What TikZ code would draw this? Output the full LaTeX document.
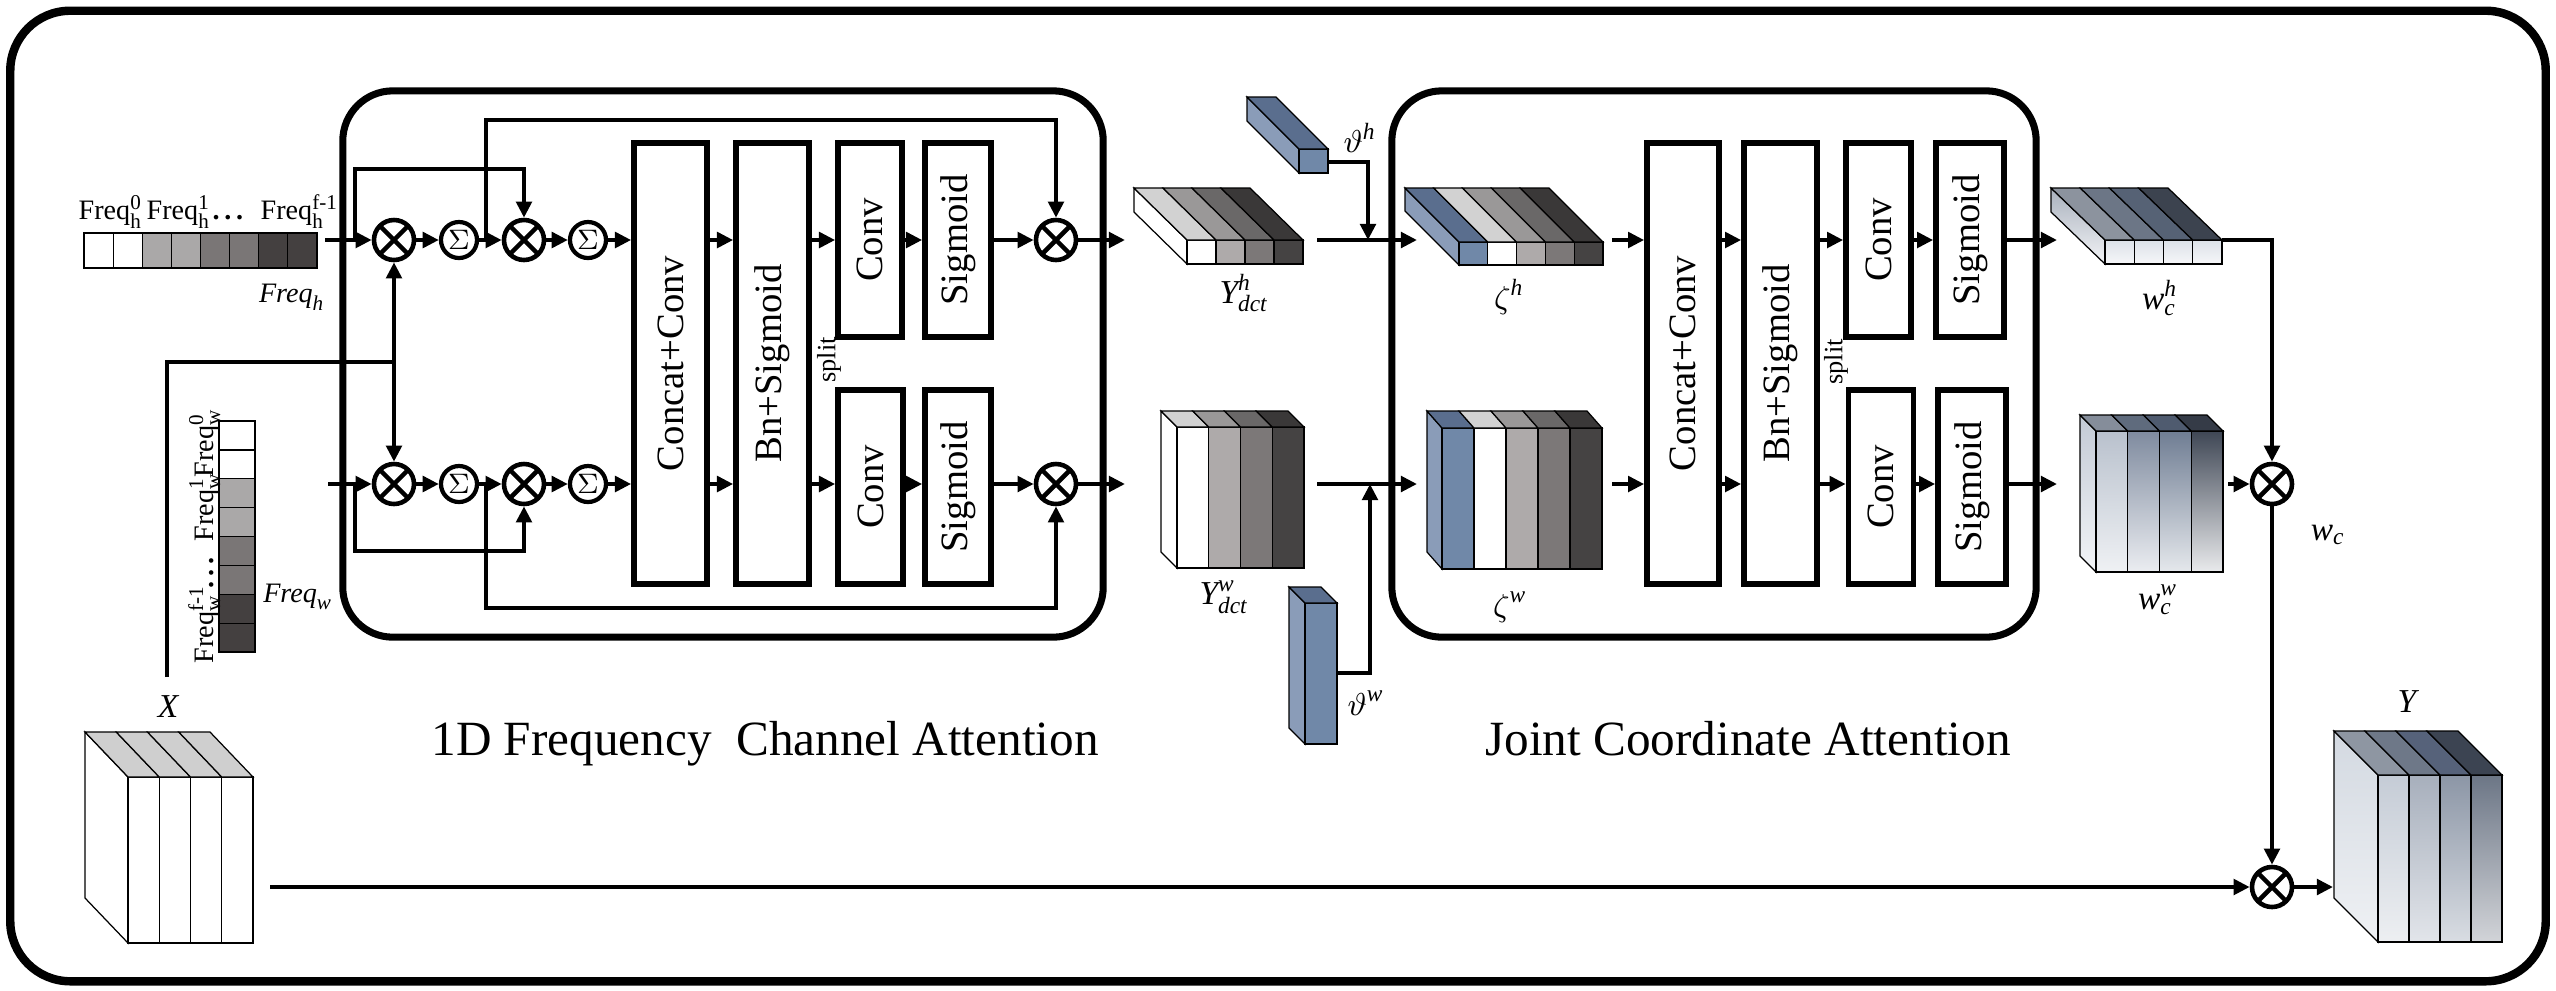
\documentclass[tikz,border=0pt]{standalone}
\usepackage{fontspec}
\setmainfont{Liberation Serif}
\usepackage{amsmath}
\usetikzlibrary{arrows.meta}
\newcommand\mti[1]{\text{\itshape #1}}
\definecolor{fq2}{HTML}{AAA8A8}
\definecolor{fq3}{HTML}{7A7676}
\definecolor{fq4}{HTML}{444040}
\definecolor{ft1}{HTML}{D2D2D2}
\definecolor{ft2}{HTML}{9A9898}
\definecolor{ft3}{HTML}{6A6868}
\definecolor{ft4}{HTML}{3A3838}
\definecolor{ff2}{HTML}{AEAAAA}
\definecolor{ff3}{HTML}{7C7878}
\definecolor{ff4}{HTML}{454343}
\definecolor{bf}{HTML}{7088A8}
\definecolor{bt}{HTML}{5A6E8E}
\definecolor{bs}{HTML}{8A9CB8}
\definecolor{xt}{HTML}{CFCFCF}
% w_c^h
\definecolor{whfa}{HTML}{DCE1E8}
\definecolor{whfb}{HTML}{F6F7F9}
\definecolor{wht1}{HTML}{8C939E}
\definecolor{wht2}{HTML}{6C7686}
\definecolor{wht3}{HTML}{566275}
\definecolor{wht4}{HTML}{3C434F}
\definecolor{whsa}{HTML}{A9B1BD}
\definecolor{whsb}{HTML}{F2F3F6}
% w_c^w
\definecolor{wwsa}{HTML}{C3CAD5}
\definecolor{wwsb}{HTML}{F2F4F7}
\definecolor{wwf1a}{HTML}{B9C1CD}
\definecolor{wwf1b}{HTML}{EFF1F4}
\definecolor{wwf2a}{HTML}{7F8B9F}
\definecolor{wwf2b}{HTML}{EBEDF1}
\definecolor{wwf3a}{HTML}{6F7D93}
\definecolor{wwf3b}{HTML}{E5E8EC}
\definecolor{wwf4a}{HTML}{3F4755}
\definecolor{wwf4b}{HTML}{E9EAEC}
\definecolor{wwt1}{HTML}{858D9A}
\definecolor{wwt2}{HTML}{5F6B7D}
\definecolor{wwt3}{HTML}{4F5B6F}
\definecolor{wwt4}{HTML}{353B47}
% Y
\definecolor{ysa}{HTML}{D3D9E1}
\definecolor{ysb}{HTML}{EFF1F4}
\definecolor{yf1a}{HTML}{C5CCD6}
\definecolor{yf1b}{HTML}{EDEFF2}
\definecolor{yf2a}{HTML}{A7AFBC}
\definecolor{yf2b}{HTML}{E2E5EA}
\definecolor{yf3a}{HTML}{8C96A6}
\definecolor{yf3b}{HTML}{D9DDE3}
\definecolor{yf4a}{HTML}{6C7686}
\definecolor{yf4b}{HTML}{D2D4D8}
\definecolor{yt1}{HTML}{8E96A2}
\definecolor{yt2}{HTML}{6E7888}
\definecolor{yt3}{HTML}{56627A}
\definecolor{yt4}{HTML}{3C4452}

% x0,y0(top),x1,y1(bottom),dx,dy,n,sidecolor,list front/top
\newcommand\flatcube[9]{%
  \filldraw[thinl,fill=#8] (#1,#2) -- (#1,#4) -- ({#1-#5},{#4-#6}) -- ({#1-#5},{#2-#6}) -- cycle;
  \foreach \fc/\tc [count=\ci from 0] in {#9}{%
    \pgfmathsetmacro\cxa{#1+(#3-#1)*\ci/#7}%
    \pgfmathsetmacro\cxb{#1+(#3-#1)*(\ci+1)/#7}%
    \filldraw[thinl,fill=\fc] (\cxa,#2) rectangle (\cxb,#4);
    \filldraw[thinl,fill=\tc] (\cxa,#2) -- (\cxb,#2) -- ({\cxb-#5},{#2-#6}) -- ({\cxa-#5},{#2-#6}) -- cycle;
  }%
}
% x0,y0,x1,y1,dx,dy,n,side top/bottom,list fronttop/frontbottom/top
\newcommand\gradcube[9]{%
  \foreach \sa/\sb in {#8}{%
    \shadedraw[thinl,top color=\sa,bottom color=\sb] (#1,#2) -- (#1,#4) -- ({#1-#5},{#4-#6}) -- ({#1-#5},{#2-#6}) -- cycle;}%
  \foreach \fa/\fb/\tc [count=\ci from 0] in {#9}{%
    \pgfmathsetmacro\cxa{#1+(#3-#1)*\ci/#7}%
    \pgfmathsetmacro\cxb{#1+(#3-#1)*(\ci+1)/#7}%
    \shadedraw[thinl,top color=\fa,bottom color=\fb] (\cxa,#2) rectangle (\cxb,#4);
    \filldraw[thinl,fill=\tc] (\cxa,#2) -- (\cxb,#2) -- ({\cxb-#5},{#2-#6}) -- ({\cxa-#5},{#2-#6}) -- cycle;
  }%
}

\begin{document}
\begin{tikzpicture}[x=0.01cm,y=-0.01cm,
  thinl/.style={line width=0.35pt,draw=black},
  arr/.style={line width=1.2pt,-{Triangle[length=4.6pt,width=4.4pt]}},
  conn/.style={line width=1.2pt},
  mulnode/.style={circle,draw,line width=1.3pt,minimum size=0.4cm,inner sep=0pt,
    path picture={\draw[line width=1.3pt] (path picture bounding box.north west) -- (path picture bounding box.south east)
      (path picture bounding box.south west) -- (path picture bounding box.north east);}},
  sumnode/.style={circle,draw,line width=1.2pt,minimum size=0.36cm,inner sep=0pt,font=\fontsize{8.5}{9}\selectfont},
  blk/.style={draw,line width=1.6pt,inner sep=0pt,font=\fontsize{11}{12}\selectfont},
  lbl/.style={inner sep=0pt,font=\fontsize{9.5}{11}\selectfont},
  frq/.style={inner sep=0pt,font=\fontsize{8}{9}\selectfont},
  ttl/.style={inner sep=0pt,font=\fontsize{14}{16}\selectfont},
  splt/.style={inner sep=0pt,font=\fontsize{7.5}{8}\selectfont,rotate=90}
]
\useasboundingbox (0,0) rectangle (2556,990);

% frames
\node[draw,line width=2.4pt,rounded corners=0.6cm,minimum width=25.34cm,minimum height=9.7cm,inner sep=0pt] (frame) at (1278,496) {};
\node[draw,line width=2pt,rounded corners=0.5cm,minimum width=7.6cm,minimum height=5.46cm,inner sep=0pt] (fcabox) at (723,364) {};
\node[draw,line width=2pt,rounded corners=0.5cm,minimum width=6.44cm,minimum height=5.46cm,inner sep=0pt] (jcabox) at (1714,364) {};

% Freq_h strip
\foreach \c [count=\i from 0] in {white,white,fq2,fq2,fq3,fq3,fq4,fq4}
  \filldraw[thinl,fill=\c] ({84+\i*29.125},233) rectangle ++(29.125,35);
\node[frq,anchor=base west] (fh0) at (78,219) {Freq$^{\text{0}}_{\text{h}}$};
\node[frq,anchor=base west] (fh1) at (146,219) {Freq$^{\text{1}}_{\text{h}}$};
\node[frq,anchor=base west] (fhd) at (212,219) {\textbf{.\,.\,.}};
\node[frq,anchor=base west] (fhf) at (260,219) {Freq$^{\text{f-1}}_{\text{h}}$};
\node[frq] (lfh) at (292,297) {$\mti{Freq}_{\mti{h}}$};

% Freq_w strip
\foreach \c [count=\i from 0] in {white,white,fq2,fq2,fq3,fq3,fq4,fq4}
  \filldraw[thinl,fill=\c] (219,{421+\i*28.875}) rectangle ++(36,28.875);
\node[frq,rotate=90,anchor=base west] (fwf) at (213,664) {Freq$^{\text{f-1}}_{\text{w}}$};
\node[frq,rotate=90,anchor=base west] (fwd) at (213,589) {\textbf{.\,.\,.}};
\node[frq,rotate=90,anchor=base west] (fw1) at (213,542) {Freq$^{\text{1}}_{\text{w}}$};
\node[frq,rotate=90,anchor=base west] (fw0) at (213,478) {Freq$^{\text{0}}_{\text{w}}$};
\node[frq] (lfw) at (298,597) {$\mti{Freq}_{\mti{w}}$};

% X block
\flatcube{128}{777}{253}{943}{43}{45}{4}{white}{white/xt,white/xt,white/xt,white/xt}
\node[lbl] (lx) at (168,707) {$\mti{X}$};

% ---------------- 1D FCA ----------------
\node[mulnode] (m1t) at (394,240) {};
\node[sumnode] (s1t) at (459,240) {$\Sigma$};
\node[mulnode] (m2t) at (524,240) {};
\node[sumnode] (s2t) at (588,240) {$\Sigma$};
\node[mulnode] (m1b) at (394,484) {};
\node[sumnode] (s1b) at (459,484) {$\Sigma$};
\node[mulnode] (m2b) at (524,484) {};
\node[sumnode] (s2b) at (588,484) {$\Sigma$};

\node[blk,minimum width=0.73cm,minimum height=4.41cm] (cc1) at (670.5,363.5) {\rotatebox{90}{Concat+Conv}};
\node[blk,minimum width=0.73cm,minimum height=4.41cm] (bn1) at (772.5,363.5) {\rotatebox{90}{Bn+Sigmoid}};
\node[blk,minimum width=0.64cm,minimum height=1.94cm] (cv1t) at (870,240) {\rotatebox{90}{Conv}};
\node[blk,minimum width=0.66cm,minimum height=1.94cm] (sg1t) at (958,240) {\rotatebox{90}{Sigmoid}};
\node[blk,minimum width=0.65cm,minimum height=1.94cm] (cv1b) at (870.5,487) {\rotatebox{90}{Conv}};
\node[blk,minimum width=0.66cm,minimum height=1.94cm] (sg1b) at (958,487) {\rotatebox{90}{Sigmoid}};
\node[splt] (sp1) at (829,360) {split};
\node[mulnode] (mo1t) at (1056,240) {};
\node[mulnode] (mo1b) at (1056,484) {};

\coordinate (fhE) at (325,240);
\coordinate (fwE) at (328,484);
\coordinate (xtop) at (167,677);
\coordinate (xj) at (394,362);
\coordinate (b1t) at (355,240);
\coordinate (b2t) at (486,240);
\coordinate (b1b) at (355,484);
\coordinate (b2b) at (486,484);
\coordinate (oh1) at (1125,240);
\coordinate (ow1) at (1125,484);

\draw[arr] (fhE) -- (m1t);
\draw[arr] (fwE) -- (m1b);
\draw[conn] (xtop) |- (xj);
\draw[arr] (xj) -- (m1t);
\draw[arr] (xj) -- (m1b);
\draw[arr] (m1t) -- (s1t);
\draw[arr] (s1t) -- (m2t);
\draw[arr] (m2t) -- (s2t);
\draw[arr] (s2t) -- (s2t -| cc1.west);
\draw[arr] (m1b) -- (s1b);
\draw[arr] (s1b) -- (m2b);
\draw[arr] (m2b) -- (s2b);
\draw[arr] (s2b) -- (s2b -| cc1.west);
\draw[arr] (b1t) -- ++(0,-71) -| (m2t);
\draw[arr] (b2t) -- ++(0,-120) -| (mo1t);
\draw[arr] (b1b) -- ++(0,67) -| (m2b);
\draw[arr] (b2b) -- ++(0,124) -| (mo1b);
\draw[arr] (cc1.east |- m1t) -- (bn1.west |- m1t);
\draw[arr] (cc1.east |- m1b) -- (bn1.west |- m1b);
\draw[arr] (bn1.east |- m1t) -- (cv1t.west |- m1t);
\draw[arr] (bn1.east |- m1b) -- (cv1b.west |- m1b);
\draw[arr] (cv1t) -- (sg1t);
\draw[arr] (cv1b.east |- m1b) -- (sg1b.west |- m1b);
\draw[arr] (sg1t) -- (mo1t);
\draw[arr] (sg1b.east |- mo1b) -- (mo1b);
\draw[arr] (mo1t) -- (oh1);
\draw[arr] (mo1b) -- (ow1);

% ---------------- middle ----------------
\flatcube{1187}{240}{1303}{264}{53}{52}{4}{white}{white/ft1,ff2/ft2,ff3/ft3,ff4/ft4}
\node[lbl] (lydh) at (1244,293) {$\mti{Y}^{\mti{h}}_{\mti{dct}}$};
\flatcube{1177}{427}{1304}{568}{16}{16}{4}{white}{white/ft1,ff2/ft2,ff3/ft3,ff4/ft4}
\node[lbl] (lydw) at (1224,597) {$\mti{Y}^{\mti{w}}_{\mti{dct}}$};
\flatcube{1299}{149}{1328}{173}{52}{52}{1}{bs}{bf/bt}
\node[lbl] (lth) at (1360,138) {$\vartheta^{\mti{h}}$};
\flatcube{1305}{603}{1337}{744}{16}{16}{1}{bs}{bf/bt}
\node[lbl] (ltw) at (1366,703) {$\vartheta^{\mti{w}}$};

\coordinate (ydh) at (1317,240);
\coordinate (inh) at (1417,240);
\coordinate (ydw) at (1317,484);
\coordinate (inw) at (1417,484);
\coordinate (thh) at (1328,162);
\coordinate (thhj) at (1368,240);
\coordinate (thw) at (1337,673);
\coordinate (thwj) at (1370,484);
\draw[arr] (ydh) -- (inh);
\draw[arr] (ydw) -- (inw);
\draw[arr] (thh) -| (thhj);
\draw[arr] (thw) -| (thwj);

% ---------------- JCA ----------------
\flatcube{1459}{242}{1603}{265}{54}{54}{5}{bs}{bf/bt,white/ft1,ff2/ft2,ff3/ft3,ff4/ft4}
\node[lbl] (lzh) at (1509,297) {$\zeta^{\mti{h}}$};
\flatcube{1442}{428}{1602}{569}{15}{17}{5}{bs}{bf/bt,white/ft1,ff2/ft2,ff3/ft3,ff4/ft4}
\node[lbl] (lzw) at (1510,607) {$\zeta^{\mti{w}}$};

\node[blk,minimum width=0.72cm,minimum height=4.41cm] (cc2) at (1683,363.5) {\rotatebox{90}{Concat+Conv}};
\node[blk,minimum width=0.73cm,minimum height=4.41cm] (bn2) at (1780.5,363.5) {\rotatebox{90}{Bn+Sigmoid}};
\node[blk,minimum width=0.65cm,minimum height=1.94cm] (cv2t) at (1878.5,240) {\rotatebox{90}{Conv}};
\node[blk,minimum width=0.68cm,minimum height=1.94cm] (sg2t) at (1970,240) {\rotatebox{90}{Sigmoid}};
\node[blk,minimum width=0.65cm,minimum height=1.94cm] (cv2b) at (1881,487) {\rotatebox{90}{Conv}};
\node[blk,minimum width=0.68cm,minimum height=1.94cm] (sg2b) at (1972,487) {\rotatebox{90}{Sigmoid}};
\node[splt] (sp2) at (1836,362) {split};

\coordinate (zhE) at (1612,240);
\coordinate (zwE) at (1612,484);
\coordinate (oh2) at (2057,240);
\coordinate (ow2) at (2057,484);
\draw[arr] (zhE) -- (zhE -| cc2.west);
\draw[arr] (zwE) -- (zwE -| cc2.west);
\draw[arr] (cc2.east |- zhE) -- (bn2.west |- zhE);
\draw[arr] (cc2.east |- zwE) -- (bn2.west |- zwE);
\draw[arr] (bn2.east |- zhE) -- (cv2t.west |- zhE);
\draw[arr] (bn2.east |- zwE) -- (cv2b.west |- zwE);
\draw[arr] (cv2t) -- (sg2t);
\draw[arr] (cv2b.east |- zwE) -- (sg2b.west |- zwE);
\draw[arr] (sg2t.east |- oh2) -- (oh2);
\draw[arr] (sg2b.east |- ow2) -- (ow2);

% ---------------- output ----------------
\gradcube{2105}{240}{2222}{264}{54}{52}{4}{whsa/whsb}{whfa/whfb/wht1,whfa/whfb/wht2,whfa/whfb/wht3,whfa/whfb/wht4}
\node[lbl] (lwh) at (2160,298) {$\mti{w}^{\mti{h}}_{\mti{c}}$};
\gradcube{2096}{431}{2223}{572}{16}{16}{4}{wwsa/wwsb}{wwf1a/wwf1b/wwt1,wwf2a/wwf2b/wwt2,wwf3a/wwf3b/wwt3,wwf4a/wwf4b/wwt4}
\node[lbl] (lww) at (2158,600) {$\mti{w}^{\mti{w}}_{\mti{c}}$};
\node[lbl] (lwc) at (2328,535) {$\mti{w}_{\mti{c}}$};
\gradcube{2378}{775}{2502}{942}{44}{44}{4}{ysa/ysb}{yf1a/yf1b/yt1,yf2a/yf2b/yt2,yf3a/yf3b/yt3,yf4a/yf4b/yt4}
\node[lbl] (ly) at (2407,702) {$\mti{Y}$};

\node[mulnode] (mc) at (2272,484) {};
\node[mulnode] (my) at (2272,887) {};
\coordinate (wchE) at (2222,240);
\coordinate (wcwE) at (2228,484);
\coordinate (xE) at (270,887);
\coordinate (yin) at (2333,887);
\draw[arr] (wchE) -| (mc);
\draw[arr] (wcwE) -- (mc);
\draw[arr] (mc) -- (my);
\draw[arr] (xE) -- (my);
\draw[arr] (my) -- (yin);

% titles
\node[ttl,anchor=base] (t1) at (765,755) {1D Frequency\ \ Channel Attention};
\node[ttl,anchor=base] (t2) at (1748,755) {Joint Coordinate Attention};
\end{tikzpicture}
\end{document}
